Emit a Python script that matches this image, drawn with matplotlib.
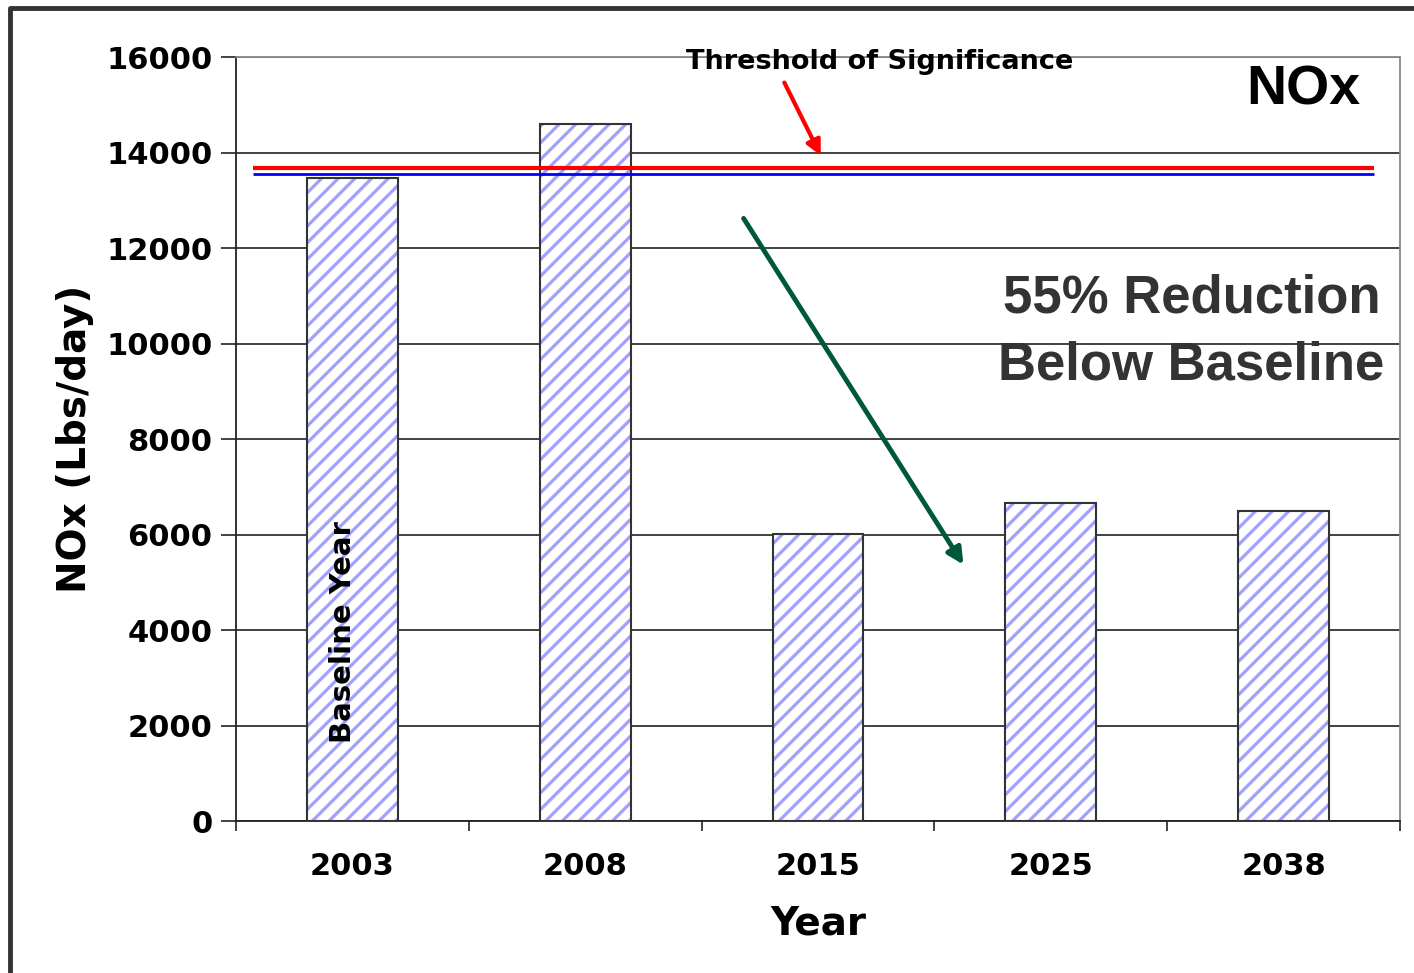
import matplotlib
matplotlib.use('Agg')
import matplotlib.pyplot as plt
from matplotlib.lines import Line2D
import numpy as np

# data
years = ['2003', '2008', '2015', '2025', '2038']
nox = [13470, 14600, 6010, 6660, 6500]
threshold = 13680
baseline = 13550
yticks = [0, 2000, 4000, 6000, 8000, 10000, 12000, 14000, 16000]

plt.rcParams['hatch.linewidth'] = 2.3

fig = plt.figure(figsize=(14.14, 9.73), dpi=100)
ax = fig.add_axes([0.1669, 0.1562, 0.8232, 0.7852])

x = np.arange(len(years))
ax.bar(x, nox, 0.39, color='white', hatch='//', edgecolor='#a0a0ff', linewidth=0, zorder=3)
ax.bar(x, nox, 0.39, fill=False, edgecolor='#333333', linewidth=1.5, zorder=4)

ax.plot([-0.427, 4.39], [threshold, threshold], color='#ff0000', lw=3, zorder=5, solid_capstyle='butt')
ax.plot([-0.427, 4.39], [baseline, baseline], color='#0000ff', lw=2, zorder=5, solid_capstyle='butt')

ax.set_xlim(-0.5, 4.5)
ax.set_ylim(0, 16000)
ax.set_yticks(yticks)
ax.set_xticks(x)
ax.set_xticklabels(years)
ax.set_xticks(np.arange(-0.5, 5, 1), minor=True)
ax.tick_params(axis='x', which='major', length=0, pad=22)
ax.tick_params(axis='x', which='minor', length=7, width=1.2, direction='out', color='#222222')
ax.tick_params(axis='y', length=11, width=1.2, direction='out', color='#222222', pad=6)
for lab in ax.get_xticklabels() + ax.get_yticklabels():
    lab.set_fontsize(22)
    lab.set_fontweight('bold')

ax.yaxis.grid(True, color='#333333', lw=1.3, zorder=0)
ax.set_axisbelow(True)
ax.spines['top'].set_color('#888888')
ax.spines['right'].set_color('#888888')
ax.spines['left'].set_color('#222222')
ax.spines['bottom'].set_color('#222222')
for s in ax.spines.values():
    s.set_linewidth(1.3)

ax.set_xlabel('Year', fontsize=28, fontweight='bold', labelpad=17)
ax.set_ylabel('NOx (Lbs/day)', fontsize=28, fontweight='bold', labelpad=9)

ax.text(2.263, 15890, 'Threshold of Significance', fontsize=19.5, fontweight='bold',
        ha='center', va='center', zorder=6)
ax.annotate('', xy=(2.017, 13885), xytext=(1.85, 15518),
            arrowprops=dict(arrowstyle='-|>', color='#ff0000', lw=3, mutation_scale=22), zorder=6)
ax.text(4.33, 15309, 'NOx', fontsize=40, fontweight='bold', family='Liberation Sans',
        ha='right', va='center')
ax.text(3.604, 10241, '55% Reduction\nBelow Baseline', fontsize=38, fontweight='bold',
        family='Liberation Sans', color='#333333', ha='center', va='center',
        multialignment='center', linespacing=1.45)
ax.annotate('', xy=(2.631, 5319), xytext=(1.674, 12670),
            arrowprops=dict(arrowstyle='-|>', color='#00583c', lw=3.5, mutation_scale=24), zorder=6)
ax.text(-0.04, 3958, 'Baseline Year', fontsize=21, fontweight='bold', rotation=90,
        ha='center', va='center', zorder=6)

# outer frame
fig.add_artist(Line2D([0.0071, 0.0071, 1.0], [0.0, 0.9918, 0.9918], color='#333333', lw=3.5,
                      transform=fig.transFigure))

fig.savefig('out.png', dpi=100)
